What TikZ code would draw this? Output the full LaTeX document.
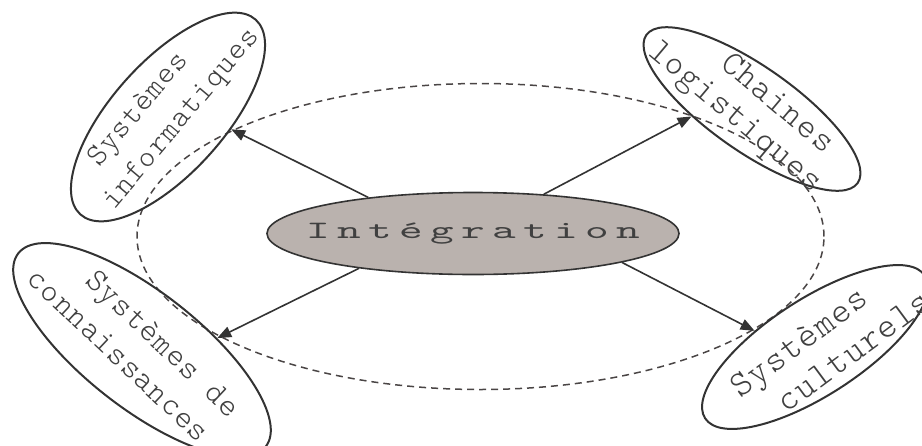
\documentclass[tikz,border=0pt]{standalone}
\usepackage{fontspec}
\newfontfamily\monoC[LetterSpace=16.4]{lmmono10-regular.otf}
\newfontfamily\monoO[LetterSpace=4]{lmmonolt10-regular.otf}
\usetikzlibrary{shapes.geometric,arrows.meta}
\definecolor{ln}{HTML}{333333}
\definecolor{fillc}{HTML}{BAB2AE}
\definecolor{txt}{HTML}{404040}
\definecolor{dsh}{HTML}{4A4545}
\newcommand{\shline}[2]{\makebox[0pt][c]{\hspace*{#1}#2}}
\tikzset{
  ring/.style={ellipse, draw=dsh, line width=1.5pt, dash pattern=on 7pt off 5pt, inner sep=0pt},
  centre/.style={ellipse, draw=ln, fill=fillc, line width=1.6pt, inner sep=0pt, text=txt,
    font=\monoC\fontsize{25}{31}\selectfont},
  outer/.style={ellipse, draw=ln, line width=2pt, inner sep=0pt},
  lbl/.style={align=center, text=txt, inner sep=0pt},
  arr/.style={draw=ln, line width=1.6pt, -{Triangle[length=14pt,width=11pt]}}
}
\begin{document}
\begin{tikzpicture}[x=1pt,y=-1pt]
\useasboundingbox (0,0) rectangle (922,445);
\node[ring, minimum width=687pt, minimum height=306pt] (ring) at (480.5,236.5) {};
\node[centre, minimum width=412pt, minimum height=82pt] (c) at (473,233.5) {\makebox[0pt][c]{\scalebox{1.8}[1]{Intégration}}};
\node[outer, rotate=48, minimum width=262pt, minimum height=112pt] (tl) at (168,117) {};
\node[lbl, rotate=50, yshift=6.8pt, font=\monoO\fontsize{31}{39}\selectfont] (tlt) at (tl.center) {\shline{-26.6pt}{Systèmes}\\\shline{14pt}{informatiques}};
\node[outer, rotate=-35, minimum width=258pt, minimum height=85pt] (tr) at (752,109) {};
\node[lbl, rotate=-40, font=\monoO\fontsize{35}{37}\selectfont] (trt) at (tr.center) {\shline{31.6pt}{Chaines}\\\shline{-14.4pt}{logistiques}};
\node[outer, rotate=-38, minimum width=314pt, minimum height=116pt] (bl) at (142,350) {};
\node[lbl, rotate=-43.3, font=\monoO\fontsize{32.5}{39}\selectfont] (blt) at (bl.center) {\shline{22.2pt}{Systèmes de}\\\shline{-26.8pt}{connaissances}};
\node[outer, rotate=33, minimum width=262pt, minimum height=96pt] (br) at (815,347) {};
\node[lbl, rotate=36.5, yshift=-6pt, font=\monoO\fontsize{36}{40}\selectfont] (brt) at (br.center) {\shline{-20pt}{Systèmes}\\\shline{56.6pt}{culturels}};
\draw[arr] (c.161) -- (tl.-59);
\draw[arr] (c.29) -- (tr.-138);
\draw[arr] (c.197) -- (bl.47);
\draw[arr] (c.-11.5) -- (br.132);
\end{tikzpicture}
\end{document}
